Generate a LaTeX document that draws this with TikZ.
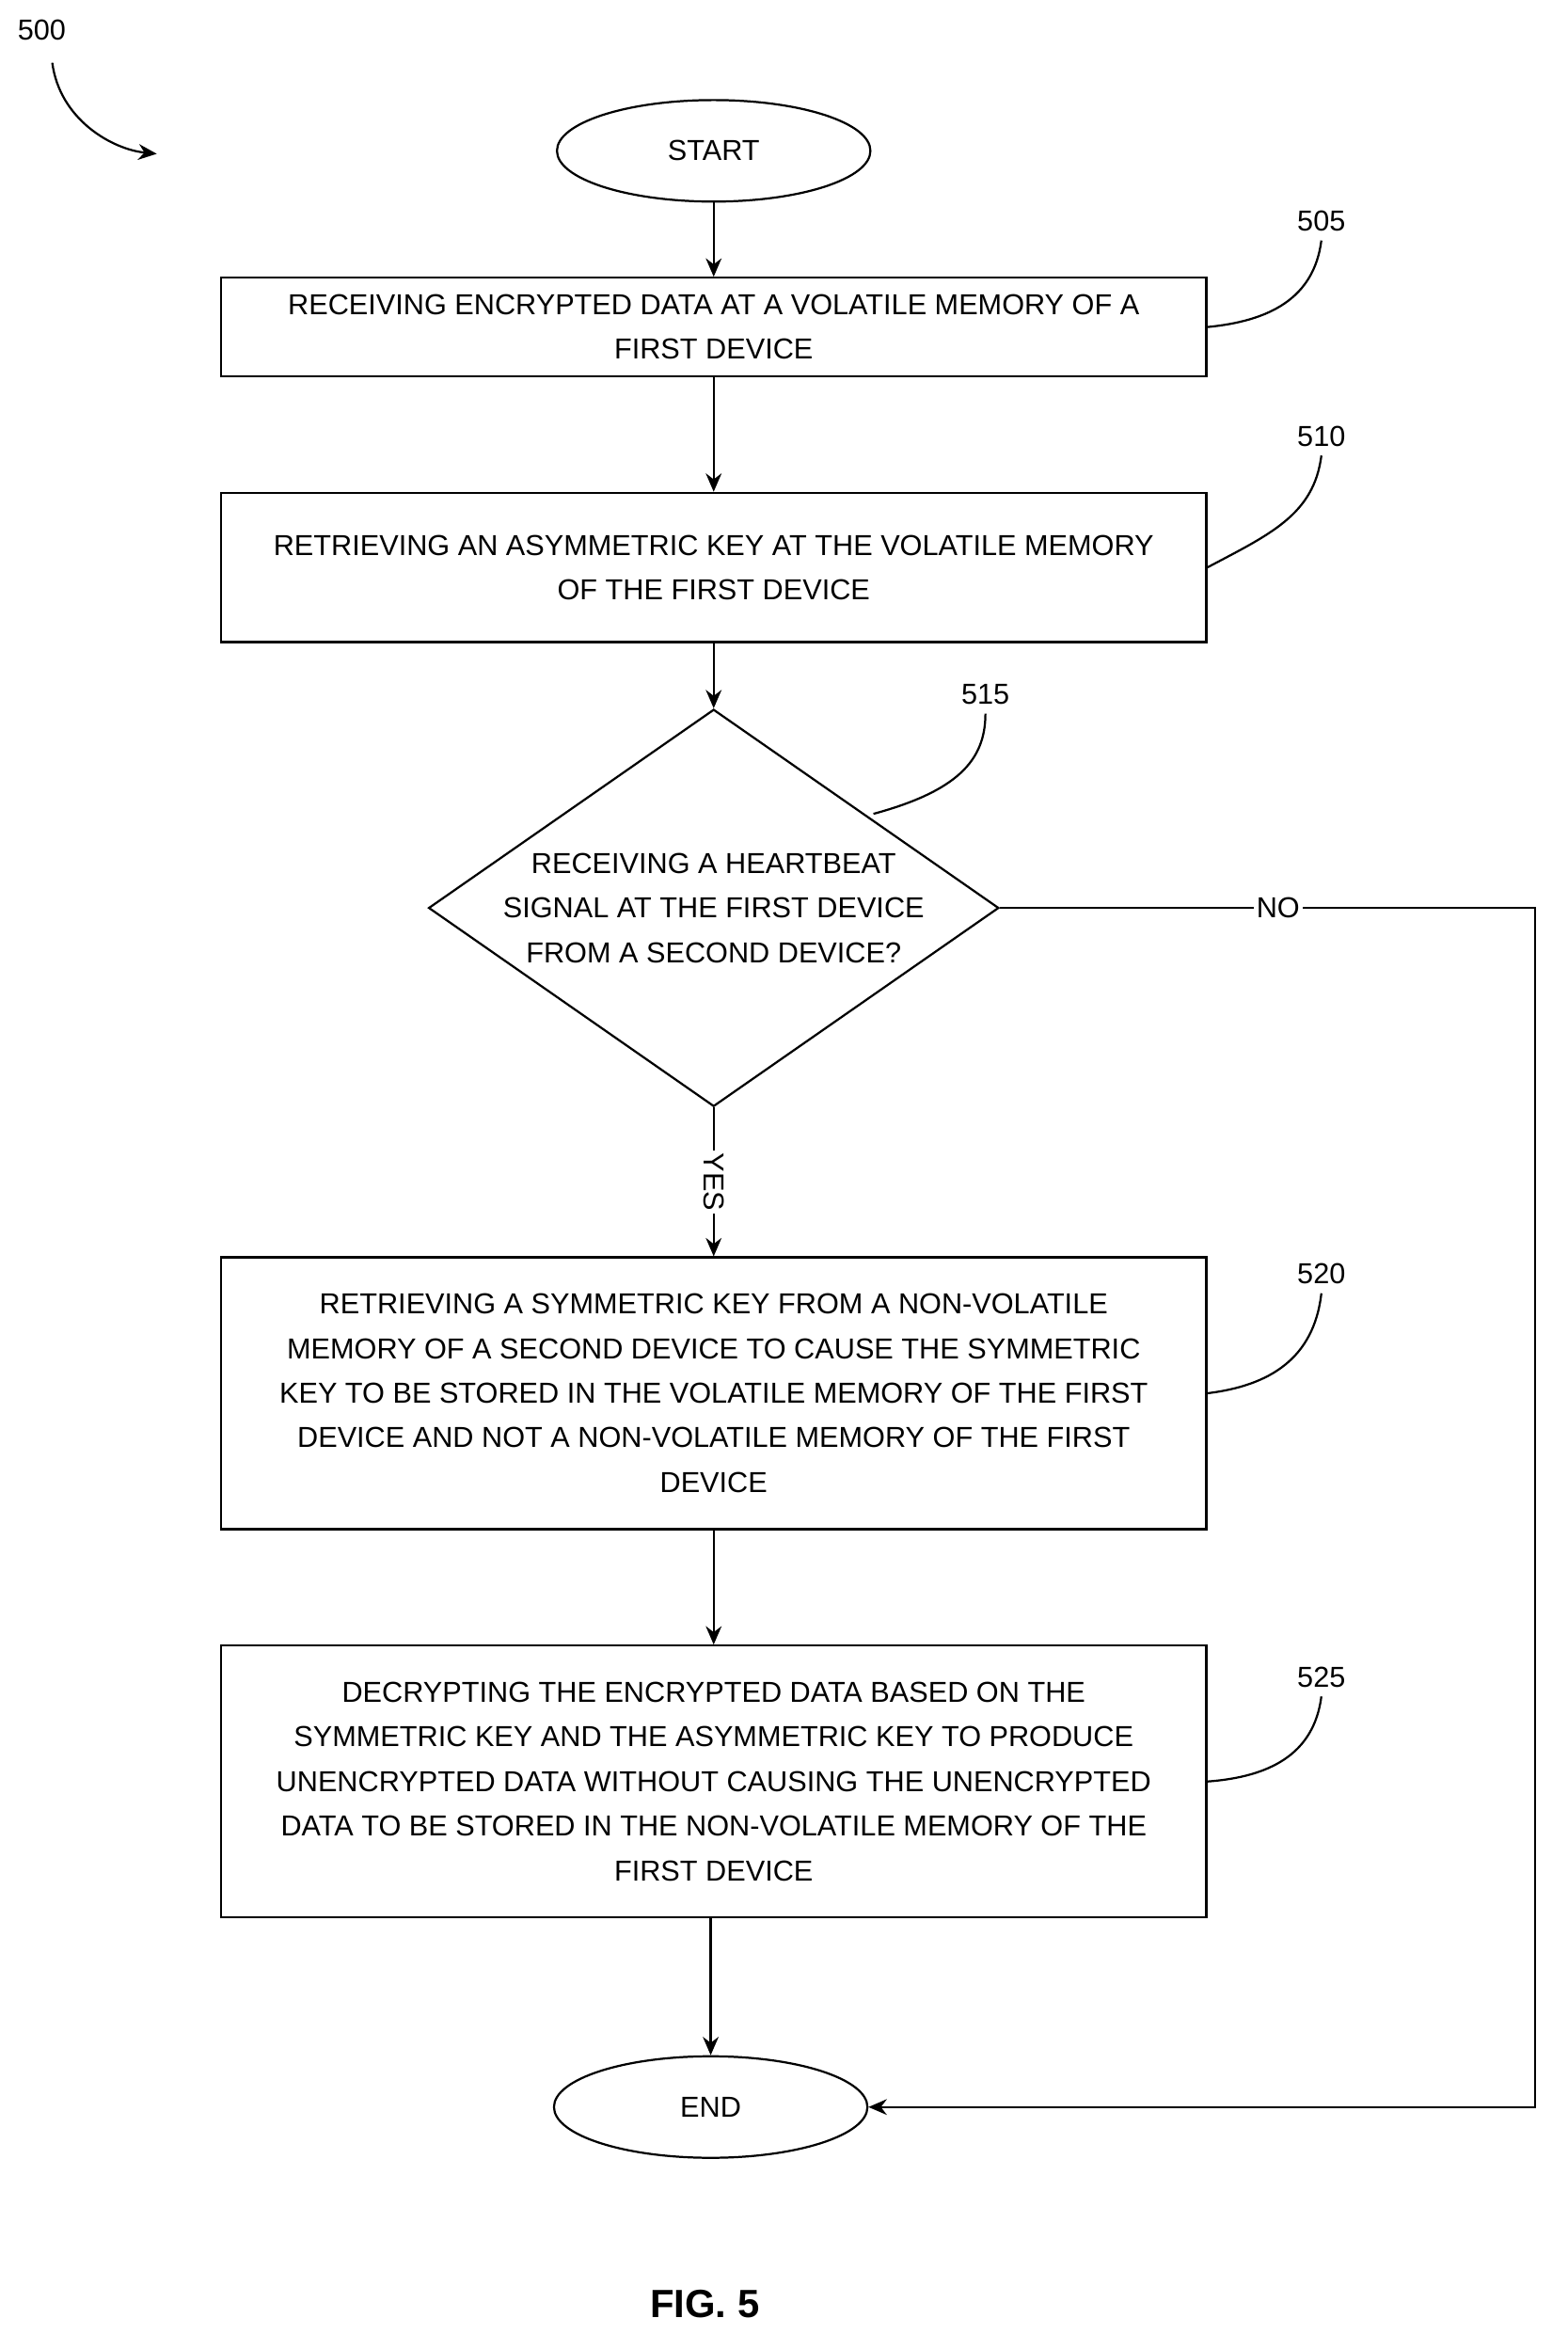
\documentclass[tikz,border=0pt]{standalone}
\usepackage{fontspec}
\setmainfont{Liberation Sans}
\usetikzlibrary{shapes.geometric,arrows.meta}
\begin{document}
\begin{tikzpicture}[x=0.02cm,y=-0.02cm]
\tikzset{etape/.style={draw, thick, minimum width=13.2cm, align=center, font=\fontsize{11}{17}\selectfont},
	terminal/.style={ellipse, draw, thick, minimum width=4.2cm, minimum height=1.36cm, font=\fontsize{11}{17}\selectfont},
	fleche/.style={-{Stealth[length=7pt,width=6pt]}, thick},
	repere/.style={font=\fontsize{11}{12}\selectfont},
	lien/.style={thick}};
\useasboundingbox (0,0) rectangle (1050,1563);
\node[terminal] (debut) at (478,101) {START};
\node[etape, minimum height=1.32cm] (e505) at (478,219) {RECEIVING ENCRYPTED DATA AT A VOLATILE MEMORY OF A\\FIRST DEVICE};
\node[etape, minimum height=2cm] (e510) at (478,380) {RETRIEVING AN ASYMMETRIC KEY AT THE VOLATILE MEMORY\\OF THE FIRST DEVICE};
\node[diamond, draw, thick, minimum width=7.64cm, minimum height=5.32cm, inner sep=0] (e515) at (478,608) {};
\node[align=center, font=\fontsize{11}{17}\selectfont] (t515) at (478,608) {RECEIVING A HEARTBEAT\\SIGNAL AT THE FIRST DEVICE\\FROM A SECOND DEVICE?};
\node[etape, minimum height=3.64cm] (e520) at (478,933) {RETRIEVING A SYMMETRIC KEY FROM A NON-VOLATILE\\MEMORY OF A SECOND DEVICE TO CAUSE THE SYMMETRIC\\KEY TO BE STORED IN THE VOLATILE MEMORY OF THE FIRST\\DEVICE AND NOT A NON-VOLATILE MEMORY OF THE FIRST\\DEVICE};
\node[etape, minimum height=3.64cm] (e525) at (478,1193) {DECRYPTING THE ENCRYPTED DATA BASED ON THE\\SYMMETRIC KEY AND THE ASYMMETRIC KEY TO PRODUCE\\UNENCRYPTED DATA WITHOUT CAUSING THE UNENCRYPTED\\DATA TO BE STORED IN THE NON-VOLATILE MEMORY OF THE\\FIRST DEVICE};
\node[terminal] (fin) at (476,1411) {END};
\coordinate (coin1) at (1028,608);
\coordinate (coin2) at (1028,1411);

\draw[fleche] (debut) -- (e505);
\draw[fleche] (e505) -- (e510);
\draw[fleche] (e510) -- (e515);
\draw[fleche] (e515) -- node[fill=white, rotate=-90, inner sep=1pt, font=\fontsize{11}{12}\selectfont] {YES} (e520);
\draw[fleche] (e520) -- (e525);
\draw[fleche] (e525.south -| fin) -- (fin);
\draw[fleche] (e515.east) -- node[fill=white, inner sep=1pt, font=\fontsize{11}{12}\selectfont, pos=0.52] {NO} (coin1) -- (coin2) -- (fin.east);

% reference numerals
\node[repere] (r500) at (28,20) {500};
\node[repere] (r505) at (885,148) {505};
\node[repere] (r510) at (885,292) {510};
\node[repere] (r515) at (660,465) {515};
\node[repere] (r520) at (885,853) {520};
\node[repere] (r525) at (885,1123) {525};
\draw[fleche] (35,42) .. controls (40,80) and (75,100) .. (105,103);
\draw[lien] (e505.east) .. controls (850,215) and (880,200) .. (r505.south);
\draw[lien] (e510.east) .. controls (850,358) and (880,345) .. (r510.south);
\draw[lien] (585,545) .. controls (640,530) and (660,510) .. (r515.south);
\draw[lien] (e520.east) .. controls (850,928) and (880,910) .. (r520.south);
\draw[lien] (e525.east) .. controls (850,1190) and (880,1175) .. (r525.south);
\node[font=\bfseries\fontsize{15}{18}\selectfont] (fig) at (472,1543) {FIG. 5};
\end{tikzpicture}
\end{document}
